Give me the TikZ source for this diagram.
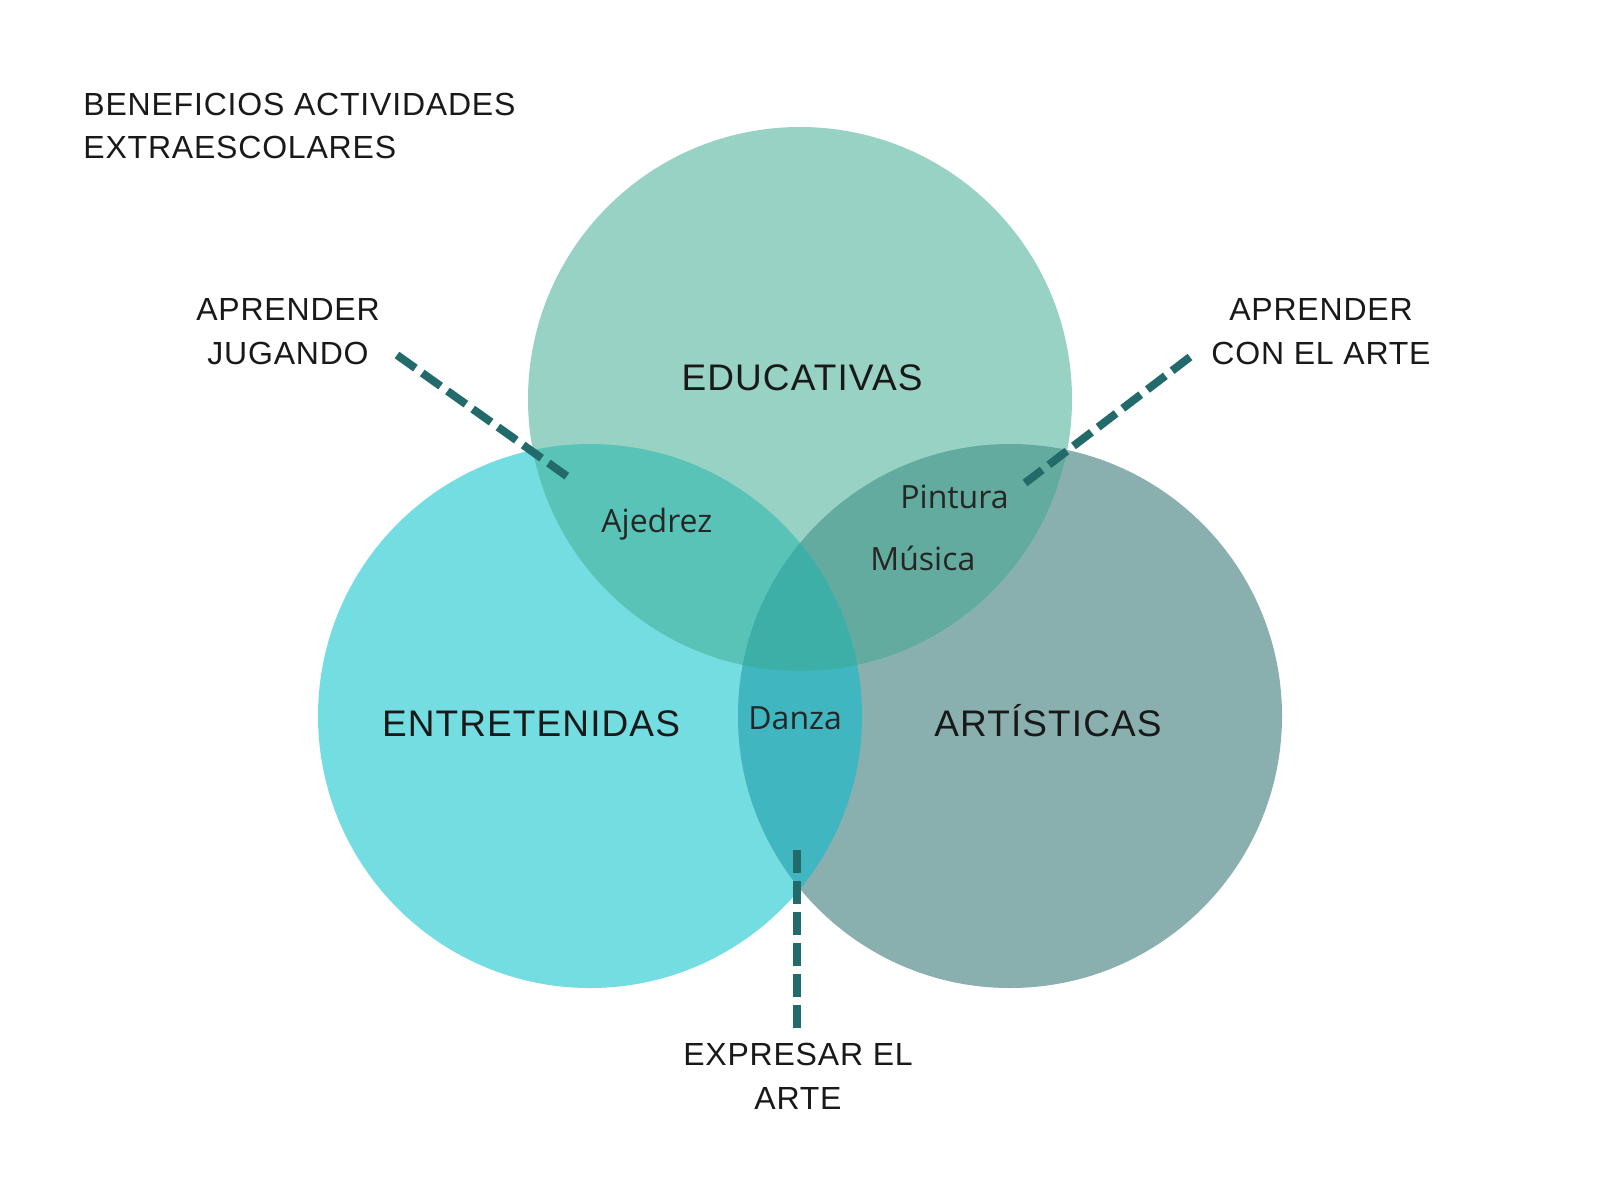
\documentclass[tikz,border=0pt]{standalone}
\usepackage{fontspec}
\setmainfont{Liberation Sans}
\newfontfamily\actfont{Open Sans}

\definecolor{educ}{HTML}{98D2C4}
\definecolor{entr}{HTML}{74DDE1}
\definecolor{arti}{HTML}{8AAFAF}
\definecolor{edent}{HTML}{58C3B6}
\definecolor{edart}{HTML}{62AB9E}
\definecolor{entart}{HTML}{3FB6C0}
\definecolor{todas}{HTML}{3EAFA7}
\definecolor{guia}{HTML}{236B6B}

\tikzset{
  rotulo/.style={inner sep=0pt, text=black!90, font=\fontsize{16}{22}\selectfont\addfontfeature{LetterSpace=2.5}},
  grupo/.style={inner sep=0pt, text=black!90, font=\fontsize{18.5}{22}\selectfont\addfontfeature{LetterSpace=3}},
  actividad/.style={inner sep=0pt, text=black!85, font=\actfont\fontsize{16}{20}\selectfont},
  guion/.style={guia, line width=4pt, dash pattern=on 11.3pt off 4.2pt}
}

\def\radio{136pt}

\begin{document}
\begin{tikzpicture}[x=0.5pt, y=-0.5pt]

\fill[white] (0,0) rectangle (1600,1200);
\useasboundingbox (0,0) rectangle (1600,1200);

\coordinate (cEdu) at (800,399);
\coordinate (cEnt) at (590,716);
\coordinate (cArt) at (1010,716);

\fill[entr] (cEnt) circle (\radio);
\fill[arti] (cArt) circle (\radio);
\fill[educ] (cEdu) circle (\radio);

\begin{scope}
\clip (cEdu) circle (\radio);
\fill[edent] (cEnt) circle (\radio);
\fill[edart] (cArt) circle (\radio);
\end{scope}
\begin{scope}
\clip (cEnt) circle (\radio);
\fill[entart] (cArt) circle (\radio);
\end{scope}
\begin{scope}
\clip (cEdu) circle (\radio);
\clip (cEnt) circle (\radio);
\fill[todas] (cArt) circle (\radio);
\end{scope}

\node[rotulo, anchor=north west, align=left] (titulo) at (83,93)
  {BENEFICIOS ACTIVIDADES\\[-0.5pt]EXTRAESCOLARES};

\node[grupo, anchor=base] (educativas) at (802,390) {EDUCATIVAS};
\node[grupo, anchor=base] (entretenidas) at (531,736) {ENTRETENIDAS};
\node[grupo, anchor=base] (artisticas) at (1048,736) {ARTÍSTICAS};

\node[actividad, anchor=base west] (ajedrez) at (601,532) {Ajedrez};
\node[actividad, anchor=base west] (pintura) at (900,508) {Pintura};
\node[actividad, anchor=base west] (musica) at (870,570) {Música};
\node[actividad, anchor=base west] (danza) at (748,729) {Danza};

\node[rotulo, anchor=north, align=center] (jugando) at (288,298) {APRENDER\\JUGANDO};
\node[rotulo, anchor=north, align=center] (conarte) at (1321,298) {APRENDER\\CON EL ARTE};
\node[rotulo, anchor=north, align=center] (expresar) at (798,1043) {EXPRESAR EL\\ARTE};

\coordinate (jugA) at (397,355);
\coordinate (jugB) at (568,477);
\coordinate (conA) at (1190,357);
\coordinate (conB) at (1025,483);
\coordinate (expA) at (797,850);
\coordinate (expB) at (797,1028);

\draw[guion] (jugA) -- (jugB);
\draw[guion] (conA) -- (conB);
\draw[guion] (expA) -- (expB);

\end{tikzpicture}
\end{document}
